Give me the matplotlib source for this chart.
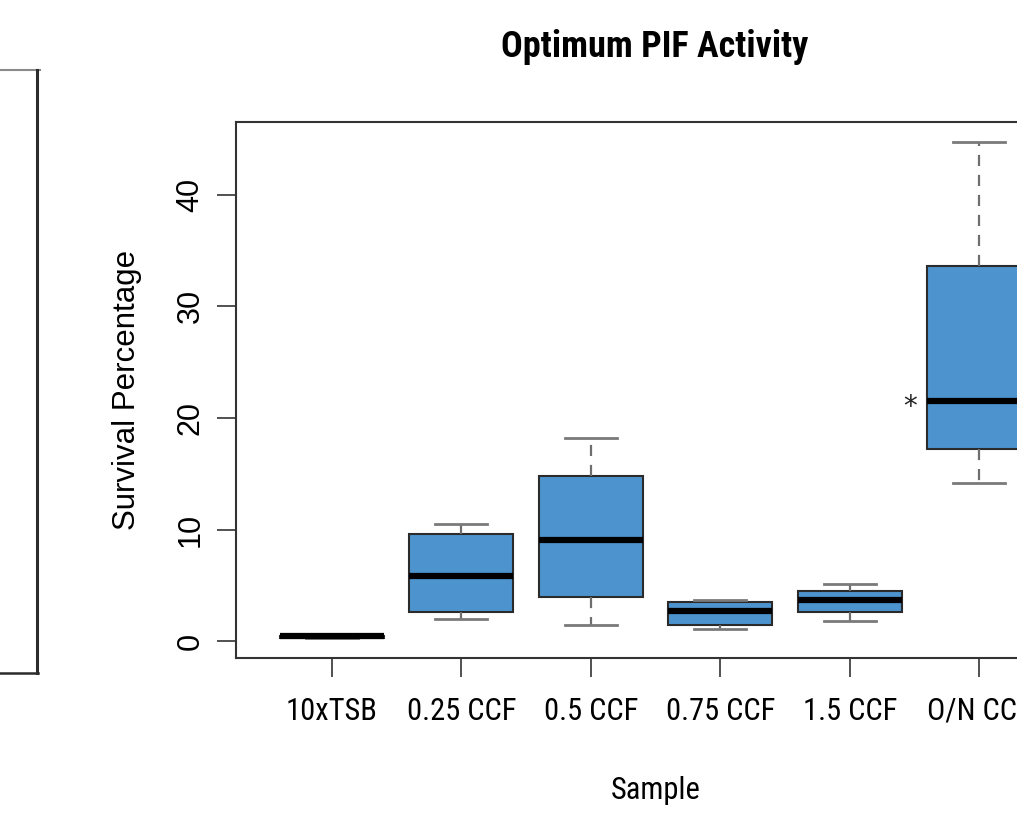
import matplotlib
matplotlib.use("Agg")
import matplotlib.pyplot as plt
from matplotlib.lines import Line2D

# survival percentages per sample (five-number summaries)
samples = ["10xTSB", "0.25 CCF", "0.5 CCF", "0.75 CCF", "1.5 CCF", "O/N CCF"]
whis_lo = [0.30, 2.0, 1.5, 1.1, 1.8, 14.2]
q1 = [0.35, 2.6, 4.0, 1.45, 2.6, 17.2]
medians = [0.45, 5.9, 9.05, 2.7, 3.7, 21.5]
q3 = [0.50, 9.6, 14.8, 3.5, 4.5, 33.6]
whis_hi = [0.55, 10.5, 18.2, 3.7, 5.1, 44.7]

narrow = ["Roboto Condensed", "Liberation Sans", "DejaVu Sans"]
plain = ["Liberation Sans", "DejaVu Sans"]

fig = plt.figure(figsize=(10.17, 8.15), dpi=100)
W, H = 1017, 815
ax = fig.add_axes([236 / W, (H - 658) / H, (1075 - 236) / W, (658 - 122) / H])

stats = []
for i, name in enumerate(samples):
    stats.append(dict(label=name, whislo=whis_lo[i], q1=q1[i], med=medians[i],
                      q3=q3[i], whishi=whis_hi[i], fliers=[]))

ax.bxp(stats, positions=range(1, len(samples) + 1), widths=0.8,
       patch_artist=True, showfliers=False,
       boxprops=dict(facecolor="#4d94cf", edgecolor="#2b2b2b", linewidth=1.5),
       medianprops=dict(color="black", linewidth=4.5, solid_capstyle="butt"),
       whiskerprops=dict(color="#6e6e6e", linewidth=1.6, linestyle=(0, (5, 4))),
       capprops=dict(color="#7a7a7a", linewidth=2.0),
       capwidths=0.4)

ax.set_xlim(0.26, 6.74)
ax.set_ylim(-1.48, 46.5)
ax.set_yticks([0, 10, 20, 30, 40])
ax.set_xticks(range(1, len(samples) + 1))
ax.set_xticklabels(samples, fontfamily=narrow, fontsize=22)
for lab in ax.get_yticklabels():
    lab.set_rotation(90)
    lab.set_va("center")
    lab.set_fontfamily(plain)
    lab.set_fontsize(22)
ax.tick_params(axis="both", length=14, width=1.2, color="#333333", pad=8)
ax.tick_params(axis="x", pad=14)
for s in ax.spines.values():
    s.set_linewidth(1.5)
    s.set_color("#333333")

ax.set_ylabel("Survival Percentage", fontfamily=plain, fontsize=22.5, labelpad=24)
ax.set_xlabel("Sample", fontfamily=narrow, fontsize=22, labelpad=36)
ax.text(5.47, 21.0, "*", fontsize=20, ha="center", va="center", color="#222222")

fig.text(655 / W, 1 - 47 / H, "Optimum PIF Activity", fontfamily=narrow,
         fontweight="bold", fontsize=26, ha="center", va="center")

# neighbouring panel frame on the left
fig.add_artist(Line2D([0, 40 / W], [1 - 70 / H, 1 - 70 / H], transform=fig.transFigure,
                      color="#8a8a8a", linewidth=1.5))
fig.add_artist(Line2D([37 / W, 37 / W], [1 - 70 / H, 1 - 673 / H], transform=fig.transFigure,
                      color="#2b2b2b", linewidth=2.2))
fig.add_artist(Line2D([0, 38 / W], [1 - 673 / H, 1 - 673 / H], transform=fig.transFigure,
                      color="#2b2b2b", linewidth=1.8))

fig.savefig("out.png", dpi=100)
